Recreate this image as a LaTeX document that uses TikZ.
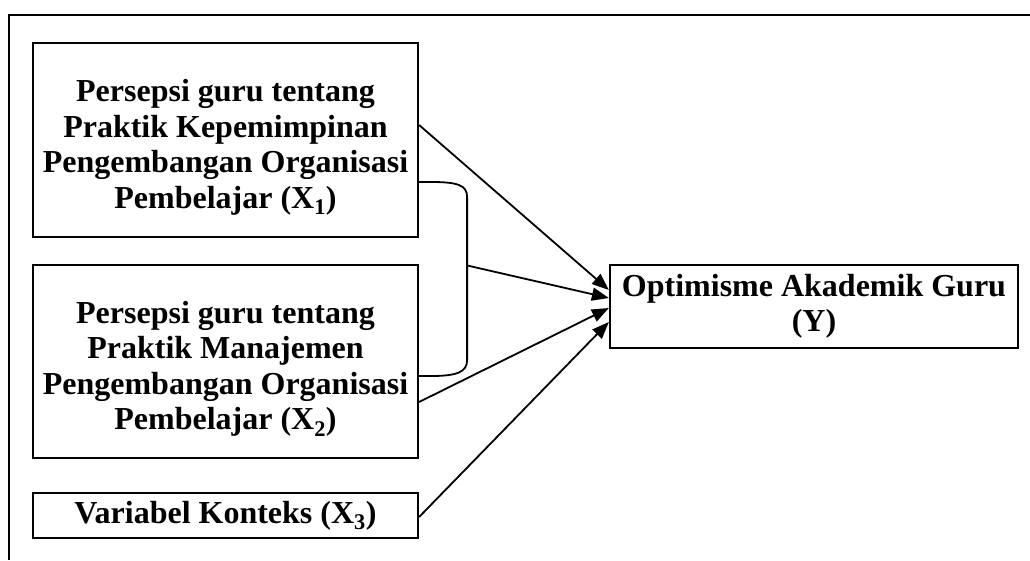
\documentclass[tikz,border=0pt]{standalone}
\usepackage{fontspec}
\setmainfont{Liberation Serif}
\usetikzlibrary{arrows.meta,calc}

\begin{document}
\begin{tikzpicture}[x=1pt,y=-1pt,
  every node/.style={font=\bfseries\fontsize{32}{35.5}\selectfont},
  varbox/.style={draw,line width=2.2pt,align=center,inner sep=0pt},
  arr/.style={-{Triangle[length=17pt,width=13pt]},line width=1.8pt}]
  \useasboundingbox (0,0) rectangle (1030,560);
  % frame of the figure
  \draw[line width=2pt] (1030,15) -- (9,15) -- (9,560);

  \node[varbox,minimum width=385pt,minimum height=194pt] (x1) at (225.5,140)
    {\rule{0pt}{37pt}Persepsi guru tentang\\Praktik Kepemimpinan\\Pengembangan Organisasi\\Pembelajar (X\textsubscript{1})};
  \node[varbox,minimum width=385pt,minimum height=193pt] (x2) at (225.5,361.5)
    {\rule{0pt}{37pt}Persepsi guru tentang\\Praktik Manajemen\\Pengembangan Organisasi\\Pembelajar (X\textsubscript{2})};
  \node[varbox,minimum width=385pt,minimum height=45pt] (x3) at (225.5,515.5)
    {Variabel Konteks (X\textsubscript{3})};
  \node[varbox,minimum width=408pt,minimum height=83pt] (y) at (814,306.5)
    {Optimisme Akademik Guru\\(Y)};

  % joint effect of X1 and X2
  \draw[line width=1.8pt] ([yshift=-42pt]x1.east) -- ++(12,0)
    .. controls +(26,0) and +(0,-12) .. ++(36,15)
    -- ++(0,163) coordinate[pos=0.42] (brk)
    .. controls +(0,12) and +(26,0) .. ++(-36,16)
    -- ([yshift=-14.5pt]x2.east);

  \draw[arr] ([yshift=15pt]x1.east) -- ([yshift=16.5pt]y.west);
  \draw[arr] (brk) -- ([yshift=8.5pt]y.west);
  \draw[arr] ([yshift=-40.5pt]x2.east) -- ([yshift=-1.5pt]y.west);
  \draw[arr] ([yshift=-1.5pt]x3.east) -- ([yshift=-15.5pt]y.west);
\end{tikzpicture}
\end{document}
